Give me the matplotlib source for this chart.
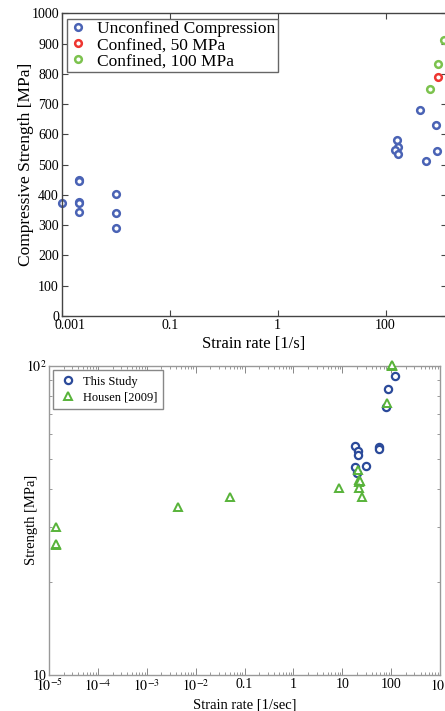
import numpy as np
import matplotlib
matplotlib.use("Agg")
import matplotlib.pyplot as plt
import matplotlib.transforms as mtransforms

plt.rcParams['font.family'] = ['Liberation Serif', 'DejaVu Serif']
plt.rcParams['mathtext.fontset'] = 'stix'

# ---- top panel data (strain rate, MPa) ----
unc_rate = [0.001, 0.00209, 0.00209, 0.00209, 0.00209, 0.00209,
            0.0102, 0.0102, 0.0102,
            1637, 1738, 1479, 1683, 4446, 5649, 8710, 9120]
unc_str = [372, 450, 446, 378, 374, 344,
           402, 339, 290,
           581, 558, 549, 534, 679, 513, 630, 546]
c50_rate = [9550]
c50_str = [788]
c100_rate = [6792, 9333, 12023]
c100_str = [749, 831, 911]
top_ticks = [1e-3, 1e-1, 1e1, 1e3]
top_ticklabels = ['0.001', '0.1', '1', '100']

# ---- bottom panel data (strain rate 1/sec, MPa) ----
study_rate = [120, 87.7, 78.6, 57.3, 57.3, 17.9, 21.3, 20.9, 17.9, 30.6, 20.4]
study_str = [92.6, 84.1, 73.4, 54.6, 53.8, 55.0, 53.0, 51.4, 47.2, 47.5, 44.9]
housen_rate = [104, 102, 106, 81.1, 21.3, 22.5, 22.5, 22.8, 22.4, 25.7, 8.6,
               0.0498, 0.00435, 1.37e-5, 1.4e-5, 1.38e-5]
housen_str = [100, 99.6, 100.3, 75.9, 46.0, 42.7, 42.1, 42.4, 40.1, 37.7, 40.1,
              37.7, 34.9, 30.2, 26.3, 26.5]
bot_ticks = [1e-5, 1e-4, 1e-3, 1e-2, 1e-1, 1, 10, 100, 1e3]
bot_ticklabels = ['$10^{-5}$', '$10^{-4}$', '$10^{-3}$', '$10^{-2}$', '0.1', '1',
                  '10', '100', '$10^{3}$']

fig = plt.figure(figsize=(4.45, 7.11), dpi=100)

# ================= top panel =================
W, H = 445.0, 711.0
ax1 = fig.add_axes([61.7 / W, 1 - 316 / H, (446.5 - 61.7) / W, (316 - 13.3) / H])
ax1.set_xscale('log')
ax1.set_xlim(1e-3, 13490)
ax1.set_ylim(0, 1000)
ms_top = dict(linestyle='none', marker='o', ms=4.8, mew=1.8, mfc='white', clip_on=False)
ax1.plot(unc_rate, unc_str, mec='#4a63b5', label='Unconfined Compression', **ms_top)
ax1.plot(c50_rate, c50_str, mec='#ee3530', label='Confined, 50 MPa', **ms_top)
ax1.plot(c100_rate, c100_str, mec='#7cc24e', label='Confined, 100 MPa', **ms_top)

ax1.xaxis.set_major_locator(matplotlib.ticker.FixedLocator(top_ticks))
ax1.xaxis.set_major_formatter(matplotlib.ticker.FixedFormatter(top_ticklabels))
ax1.xaxis.set_minor_locator(matplotlib.ticker.NullLocator())
ax1.set_yticks(np.arange(0, 1001, 100))
ax1.tick_params(direction='in', top=True, right=True, length=4, width=0.8,
                color='#444444', labelsize=10, pad=2)
for s in ax1.spines.values():
    s.set_color('#444444')
    s.set_linewidth(1.0)
# nudge first x label off the "0"
lbl = ax1.get_xticklabels()[0]
lbl.set_transform(lbl.get_transform() + mtransforms.ScaledTranslation(8 / 100, 0, fig.dpi_scale_trans))
ax1.set_xlabel('Strain rate [1/s]', fontsize=12, labelpad=3)
ax1.set_ylabel('Compressive Strength [MPa]', fontsize=12.5, labelpad=-2)
leg1 = ax1.legend(loc='upper left', numpoints=1, fontsize=12.5, fancybox=False,
                  edgecolor='#666666', framealpha=1, labelspacing=0.0,
                  handlelength=1.0, handletextpad=0.6, borderaxespad=0.3,
                  borderpad=0.15)
leg1.get_frame().set_linewidth(1.0)

# ================= bottom panel =================
ax2 = fig.add_axes([49 / W, 1 - 675 / H, (440 - 49) / W, (675 - 365.7) / H])
ax2.set_xscale('log')
ax2.set_yscale('log')
ax2.set_xlim(1e-5, 1e3)
ax2.set_ylim(10, 100)
ax2.plot(study_rate, study_str, linestyle='none', marker='o', ms=5.2, mew=1.6,
         mfc='white', mec='#2b4a9a', label='This Study', clip_on=False, zorder=3)
ax2.plot(housen_rate, housen_str, linestyle='none', marker='^', ms=6, mew=1.4,
         mfc='white', mec='#58b33a', label='Housen [2009]', clip_on=False, zorder=4)

ax2.xaxis.set_major_locator(matplotlib.ticker.FixedLocator(bot_ticks))
ax2.xaxis.set_major_formatter(matplotlib.ticker.FixedFormatter(bot_ticklabels))
ax2.xaxis.set_minor_locator(matplotlib.ticker.LogLocator(base=10, subs=np.arange(2, 10), numticks=20))
ax2.xaxis.set_minor_formatter(matplotlib.ticker.NullFormatter())
ax2.yaxis.set_major_locator(matplotlib.ticker.FixedLocator([10, 100]))
ax2.yaxis.set_major_formatter(matplotlib.ticker.FixedFormatter(['10', '$10^{2}$']))
ax2.yaxis.set_minor_locator(matplotlib.ticker.FixedLocator(np.arange(20, 100, 10)))
ax2.yaxis.set_minor_formatter(matplotlib.ticker.NullFormatter())
ax2.tick_params(which='major', direction='in', top=True, right=True, length=5,
                width=0.7, color='#888888', labelsize=10, pad=2)
ax2.tick_params(which='minor', direction='in', top=True, right=True, length=2.5,
                width=0.6, color='#888888')
for s in ax2.spines.values():
    s.set_color('#999999')
    s.set_linewidth(1.0)
ax2.set_xlabel('Strain rate [1/sec]', fontsize=10.5, labelpad=3)
ax2.set_ylabel('Strength [MPa]', fontsize=10.5, labelpad=-9)
leg2 = ax2.legend(loc='upper left', numpoints=1, fontsize=9, fancybox=False,
                  edgecolor='#888888', framealpha=1, labelspacing=0.3,
                  handlelength=1.4, handletextpad=0.5, borderaxespad=0.35,
                  borderpad=0.45)
leg2.get_frame().set_linewidth(1.0)

fig.savefig('out.png', dpi=100)
